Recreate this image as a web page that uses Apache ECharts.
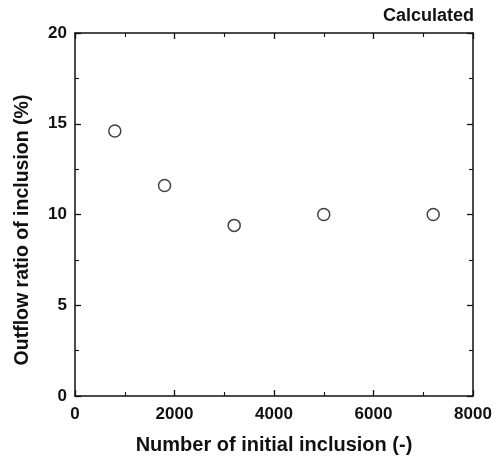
<!DOCTYPE html>
<html><head><meta charset="utf-8">
<script src="https://cdn.jsdelivr.net/npm/echarts@6/dist/echarts.min.js"></script>
<style>html,body{margin:0;padding:0;background:#fff}#c{width:496px;height:456px}</style>
</head><body><div id="c"></div>
<script>
const xValues = [800, 1800, 3200, 5000, 7200];
const yValues = [14.6, 11.6, 9.4, 10.0, 10.0];
const xTitle = 'Number of initial inclusion (-)';
const yTitle = 'Outflow ratio of inclusion (%)';
const cornerLabel = 'Calculated';

const F = 'Liberation Sans, Arial, Helvetica, sans-serif';
const C = '#111';
const chart = echarts.init(document.getElementById('c'));
const axisBase = {
  axisLine: {show: true, onZero: false, lineStyle: {color: C, width: 1.5}},
  axisTick: {show: true, inside: true, length: 6, lineStyle: {color: C, width: 1.3}},
  minorTick: {show: true, splitNumber: 2, length: 4, lineStyle: {color: C, width: 1.1}},
  splitLine: {show: false}
};
const labelStyle = {fontFamily: F, fontSize: 17, fontWeight: 'bold', color: C, formatter: v => String(v)};
chart.setOption({
  animation: false,
  grid: {left: 75, right: 23, top: 33, bottom: 60, containLabel: false, outerBoundsMode: 'none'},
  title: {text: cornerLabel, right: 22, top: 7, padding: 0,
    textStyle: {fontFamily: F, fontSize: 18, fontWeight: 'bold', color: C}},
  graphic: [{
    type: 'text', x: 23, y: 230, rotation: Math.PI / 2,
    style: {text: yTitle, fontFamily: F, fontSize: 19.5, fontWeight: 'bold', fill: C,
      align: 'center', verticalAlign: 'middle'}
  }],
  xAxis: [
    Object.assign({type: 'value', min: 0, max: 8000, interval: 2000, position: 'bottom',
      name: xTitle, nameLocation: 'middle', nameGap: 39,
      nameTextStyle: {fontFamily: F, fontSize: 20, fontWeight: 'bold', color: C},
      axisLabel: Object.assign({margin: 10}, labelStyle)}, axisBase),
    Object.assign({type: 'value', min: 0, max: 8000, interval: 2000, position: 'top',
      axisLabel: {show: false}}, axisBase)
  ],
  yAxis: [
    Object.assign({type: 'value', min: 0, max: 20, interval: 5, position: 'left',
      axisLabel: Object.assign({margin: 8}, labelStyle)}, axisBase),
    Object.assign({type: 'value', min: 0, max: 20, interval: 5, position: 'right',
      axisLabel: {show: false}}, axisBase)
  ],
  series: [{
    type: 'scatter',
    data: xValues.map((x, i) => [x, yValues[i]]),
    symbol: 'circle', symbolSize: 12,
    itemStyle: {color: '#fff', borderColor: C, borderWidth: 1.5}
  }]
});
</script></body></html>
